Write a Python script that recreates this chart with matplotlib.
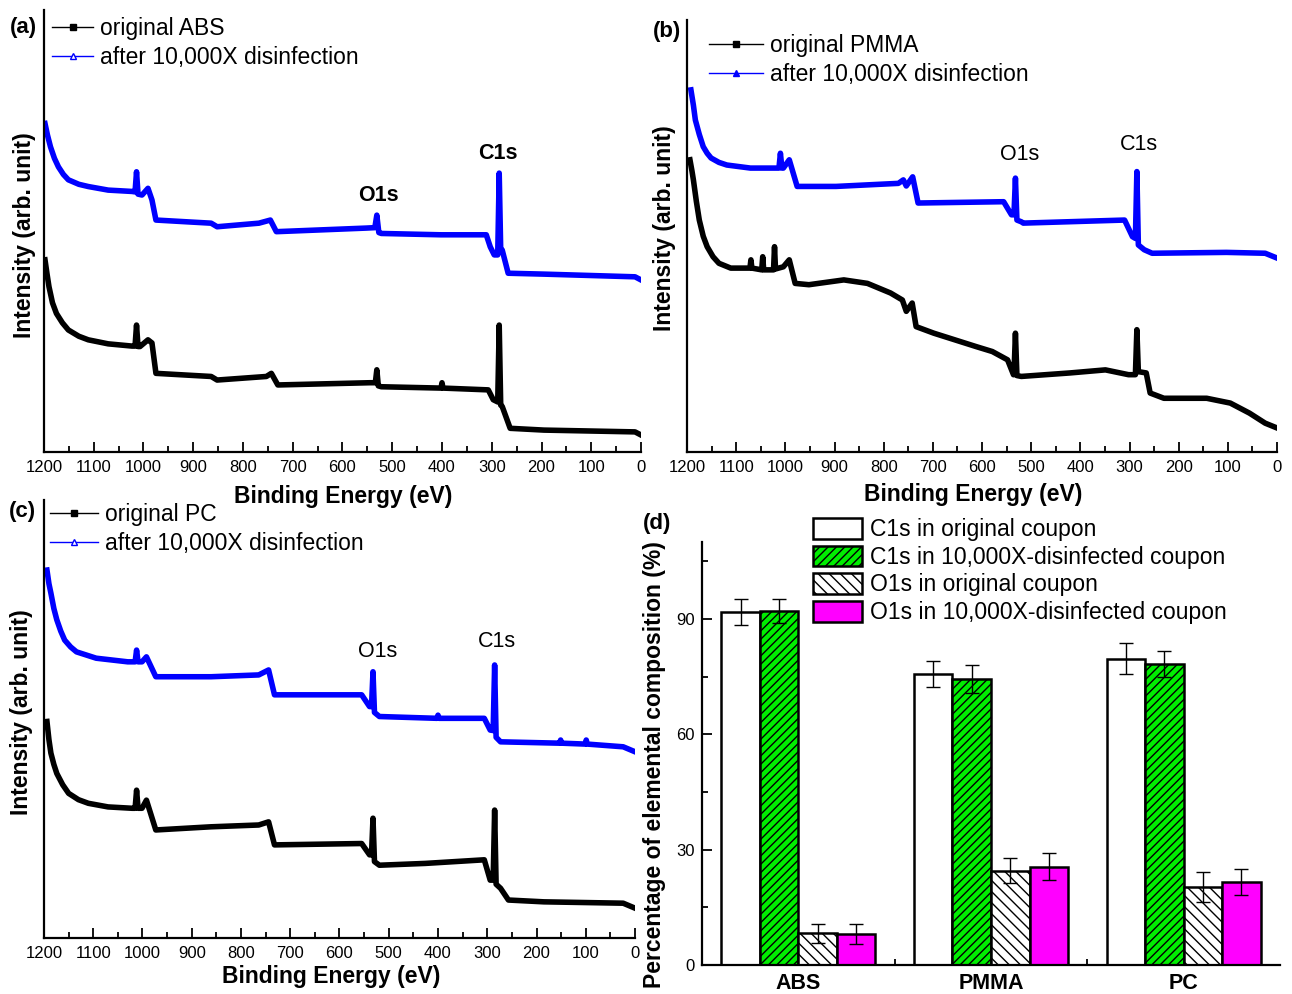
import numpy as np
import matplotlib
matplotlib.use("Agg")
import matplotlib.pyplot as plt
from matplotlib.lines import Line2D

plt.rcParams['font.family'] = ['Liberation Sans', 'DejaVu Sans']
plt.rcParams['hatch.linewidth'] = 1.0

# ---- XPS survey spectra (binding energy in eV, intensity in arb. units)
abs_orig_be = [1198, 1194, 1190, 1183, 1175, 1163, 1151, 1130, 1111, 1071, 1023, 1017, 1014, 1011, 1007, 991,
               983, 975, 912, 864, 852, 753, 743, 730, 545, 534, 531, 528, 522, 402, 400, 398, 307, 297, 288,
               285, 282, 279, 263, 195, 12, 0]
abs_orig_i = [44.1, 41.0, 38.1, 34.5, 32.1, 30.0, 28.4, 27.0, 26.2, 25.3, 24.8, 24.8, 29.5, 24.7, 24.7, 26.2,
              25.5, 18.7, 18.3, 18.0, 17.2, 18.0, 18.7, 16.1, 16.6, 16.6, 19.5, 15.9, 15.7, 15.4, 16.6, 15.4,
              15.0, 12.8, 12.3, 29.5, 11.6, 11.3, 6.4, 6.0, 5.6, 4.9]
abs_dis_be = [1198, 1193, 1187, 1179, 1171, 1161, 1151, 1130, 1111, 1071, 1023, 1017, 1014, 1011, 1003, 991,
              983, 975, 912, 864, 852, 768, 745, 733, 553, 535, 531, 527, 522, 402, 311, 303, 295, 288, 285,
              282, 279, 267, 195, 12, 0]
abs_dis_i = [74.6, 72.0, 69.4, 66.8, 64.9, 63.2, 62.0, 61.0, 60.5, 59.7, 59.4, 59.3, 63.8, 58.8, 58.6, 60.1,
             57.5, 53.0, 52.6, 52.3, 51.5, 52.3, 53.0, 50.4, 51.2, 51.3, 54.1, 50.2, 50.0, 49.7, 49.7, 47.0,
             45.2, 45.2, 63.5, 46.3, 46.3, 41.1, 40.9, 40.3, 39.6]

pmma_orig_be = [1194, 1190, 1187, 1181, 1175, 1167, 1159, 1147, 1135, 1111, 1072, 1070, 1068, 1048, 1046,
                1044, 1024, 1022, 1020, 1004, 992, 980, 952, 881, 833, 786, 762, 754, 742, 734, 698, 611,
                579, 548, 536, 535, 532, 529, 520, 421, 349, 302, 288, 285, 282, 266, 258, 230, 143, 95, 56,
                24, 0]
pmma_orig_i = [68.0, 65.5, 63.4, 58.5, 54.2, 50.5, 48.1, 45.8, 44.3, 43.2, 43.2, 45.1, 43.2, 42.8, 45.8,
               42.8, 42.8, 48.1, 43.0, 43.5, 45.1, 39.7, 39.4, 40.5, 39.7, 37.5, 35.9, 33.3, 35.2, 29.8,
               28.3, 25.2, 24.1, 22.2, 18.8, 18.8, 28.3, 18.6, 18.4, 19.2, 19.9, 18.8, 18.8, 29.1, 19.5, 19.2,
               14.6, 13.4, 13.4, 12.3, 10.0, 7.7, 6.6]
pmma_dis_be = [1192, 1187, 1183, 1175, 1167, 1159, 1151, 1135, 1119, 1071, 1024, 1013, 1010, 1007, 1004, 992,
               976, 897, 770, 760, 754, 741, 730, 556, 540, 535, 532, 529, 520, 516, 310, 294, 288, 285, 282,
               270, 254, 103, 24, 0]
pmma_dis_i = [84.0, 80.5, 77.1, 73.8, 71.0, 69.5, 68.4, 67.4, 66.8, 66.1, 66.1, 66.1, 69.5, 66.1, 66.1, 68.0,
              61.9, 61.9, 62.6, 63.4, 62.0, 64.1, 58.1, 58.4, 55.4, 55.4, 63.8, 54.2, 53.8, 53.5, 54.2, 50.4,
              50.0, 65.3, 48.5, 47.4, 46.6, 46.8, 46.6, 45.5]

pc_orig_be = [1194, 1190, 1186, 1180, 1174, 1162, 1150, 1130, 1110, 1070, 1021, 1015, 1012, 1009, 1001, 992,
              973, 861, 764, 744, 732, 555, 539, 535, 532, 529, 519, 426, 306, 294, 288, 285, 282, 273, 257,
              185, 24, 0]
pc_orig_i = [51.0, 47.0, 44.0, 41.5, 39.5, 37.0, 35.1, 33.7, 32.9, 32.1, 31.8, 31.8, 35.8, 31.8, 31.8, 33.6,
             27.0, 27.7, 28.1, 28.8, 23.7, 24.0, 21.5, 21.5, 29.6, 20.0, 19.2, 19.6, 20.4, 15.9, 15.9, 31.4,
             15.0, 14.1, 11.5, 11.1, 10.8, 9.7]
pc_dis_be = [1194, 1190, 1186, 1180, 1174, 1166, 1158, 1146, 1134, 1094, 1030, 1015, 1012, 1009, 1001, 992,
             973, 861, 764, 744, 732, 555, 539, 535, 532, 529, 519, 402, 400, 398, 306, 294, 288, 285, 282,
             273, 153, 151, 149, 101, 99, 97, 24, 0]
pc_dis_i = [84.5, 81.5, 79.4, 76.0, 73.5, 71.0, 69.0, 67.5, 66.4, 65.0, 64.2, 64.2, 66.8, 64.2, 64.2, 65.3,
            60.9, 60.9, 61.3, 62.4, 56.9, 56.9, 54.3, 54.3, 62.0, 53.0, 52.1, 51.7, 52.4, 51.7, 51.7, 49.1,
            49.0, 63.5, 47.5, 46.5, 46.2, 46.9, 46.2, 46.0, 46.9, 46.0, 45.4, 44.3]

# ---- elemental composition (%)
materials = ['ABS', 'PMMA', 'PC']
c1s_orig = [91.8, 75.6, 79.7]
c1s_orig_err = [3.3, 3.4, 4.0]
c1s_dis = [92.1, 74.4, 78.3]
c1s_dis_err = [3.1, 3.7, 3.3]
o1s_orig = [8.2, 24.5, 20.4]
o1s_orig_err = [2.5, 3.3, 3.9]
o1s_dis = [8.0, 25.6, 21.6]
o1s_dis_err = [2.6, 3.5, 3.3]

W, H = 1292, 994
fig = plt.figure(figsize=(W / 100, H / 100), dpi=100)


def px_axes(left, top, right, bottom):
    return fig.add_axes([left / W, 1 - bottom / H, (right - left) / W, (bottom - top) / H])


def ftext(x, y, s, **kw):
    fig.text(x / W, 1 - y / H, s, ha='center', va='center', **kw)


def spectrum(ax, be1, i1, be2, i2, lab1, lab2, tri_fill, ymin):
    ax.plot(be1, i1, color='black', lw=4.0, solid_joinstyle='round')
    ax.plot(be2, i2, color='blue', lw=4.0, solid_joinstyle='round')
    mfc = 'blue' if tri_fill else 'white'
    ax.set_xlim(1200, 0)
    ax.set_ylim(ymin, 100)
    ax.set_xticks(np.arange(0, 1201, 100))
    ax.set_xticks(np.arange(50, 1200, 100), minor=True)
    ax.set_yticks([])
    for s in ['top', 'right']:
        ax.spines[s].set_visible(False)
    for s in ['left', 'bottom']:
        ax.spines[s].set_linewidth(1.6)
    ax.tick_params(axis='x', which='major', direction='in', length=7, width=1.3, labelsize=12, pad=6)
    ax.tick_params(axis='x', which='minor', direction='in', length=4, width=1.3)
    handles = [Line2D([], [], color='black', lw=1, marker='s', ms=4),
               Line2D([], [], color='blue', lw=1, marker='^', ms=5, mfc=mfc, mec='blue')]
    return handles, [lab1, lab2]


leg_kw = dict(loc='upper left', frameon=False, fontsize=16.5, handletextpad=0.3, labelspacing=0.25,
              borderpad=0, borderaxespad=0, numpoints=1)

# (a)
ax_a = px_axes(44, 10, 641, 452)
h, l = spectrum(ax_a, abs_orig_be, abs_orig_i, abs_dis_be, abs_dis_i,
                'original ABS', 'after 10,000X disinfection', False, 1.1)
fig.legend(h, l, bbox_to_anchor=(52 / W, 1 - 17 / H), handlelength=1.8, **leg_kw)
ax_a.text(287, 68, 'C1s', ha='center', va='center', fontsize=15.5, fontweight='bold')
ax_a.text(528, 58.4, 'O1s', ha='center', va='center', fontsize=15.5, fontweight='bold')
ftext(343, 497, 'Binding Energy (eV)', fontsize=16.5, fontweight='bold')
ftext(25, 235, 'Intensity (arb. unit)', fontsize=16.5, fontweight='bold', rotation=90)
ftext(23, 28, '(a)', fontsize=16, fontweight='bold')

# (b)
ax_b = px_axes(687, 20, 1277, 452)
h, l = spectrum(ax_b, pmma_orig_be, pmma_orig_i, pmma_dis_be, pmma_dis_i,
                'original PMMA', 'after 10,000X disinfection', True, 1.1)
fig.legend(h, l, bbox_to_anchor=(709 / W, 1 - 34 / H), handlelength=2.35, **leg_kw)
ax_b.text(523, 69.3, 'O1s', ha='center', va='center', fontsize=15.5)
ax_b.text(281, 71.4, 'C1s', ha='center', va='center', fontsize=15.5)
ftext(973, 494, 'Binding Energy (eV)', fontsize=16.5, fontweight='bold')
ftext(664, 228, 'Intensity (arb. unit)', fontsize=16.5, fontweight='bold', rotation=90)
ftext(667, 31, '(b)', fontsize=16, fontweight='bold')

# (c)
ax_c = px_axes(44, 500, 635, 938)
h, l = spectrum(ax_c, pc_orig_be, pc_orig_i, pc_dis_be, pc_dis_i,
                'original PC', 'after 10,000X disinfection', False, 3.1)
fig.legend(h, l, bbox_to_anchor=(50 / W, 1 - 503 / H), handlelength=2.1, **leg_kw)
ax_c.text(522, 66.4, 'O1s', ha='center', va='center', fontsize=15.5)
ax_c.text(280, 68.8, 'C1s', ha='center', va='center', fontsize=15.5)
ftext(331, 977, 'Binding Energy (eV)', fontsize=16.5, fontweight='bold')
ftext(22, 712, 'Intensity (arb. unit)', fontsize=16.5, fontweight='bold', rotation=90)
ftext(22, 512, '(c)', fontsize=16, fontweight='bold')

# (d)
ax_d = px_axes(702, 542, 1280, 965)
x = np.arange(len(materials))
bw = 0.2
ekw = dict(ecolor='black', elinewidth=1, capsize=5, capthick=1)
ax_d.bar(x - 0.3, c1s_orig, bw, yerr=c1s_orig_err, color='white', edgecolor='black', lw=1.8,
         error_kw=ekw, label='C1s in original coupon')
ax_d.bar(x - 0.1, c1s_dis, bw, yerr=c1s_dis_err, color='#00ee00', edgecolor='black', lw=1.8,
         hatch='////', error_kw=ekw, label='C1s in 10,000X-disinfected coupon')
ax_d.bar(x + 0.1, o1s_orig, bw, yerr=o1s_orig_err, color='white', edgecolor='black', lw=1.8,
         hatch='\\\\\\', error_kw=ekw, label='O1s in original coupon')
ax_d.bar(x + 0.3, o1s_dis, bw, yerr=o1s_dis_err, color='#ff00ff', edgecolor='black', lw=1.8,
         error_kw=ekw, label='O1s in 10,000X-disinfected coupon')
ax_d.set_xlim(-0.5, 2.5)
ax_d.set_ylim(0, 110)
ax_d.set_yticks([0, 30, 60, 90])
ax_d.set_yticks([15, 45, 75, 105], minor=True)
ax_d.set_xticks(x)
ax_d.set_xticklabels(materials, fontsize=15.5, fontweight='bold')
ax_d.set_xticks([0.5, 1.5], minor=True)
ax_d.tick_params(axis='x', which='major', length=0, pad=6)
ax_d.tick_params(axis='x', which='minor', direction='in', length=4, width=1.3)
ax_d.tick_params(axis='y', which='major', direction='in', length=7, width=1.3, labelsize=12, pad=5)
ax_d.tick_params(axis='y', which='minor', direction='in', length=4, width=1.3)
for s in ['top', 'right']:
    ax_d.spines[s].set_visible(False)
for s in ['left', 'bottom']:
    ax_d.spines[s].set_linewidth(1.6)
fig.legend(*ax_d.get_legend_handles_labels(), loc='upper left', bbox_to_anchor=(813 / W, 1 - 518 / H),
           frameon=False, fontsize=16.5, handlelength=2.15, handleheight=1.0, handletextpad=0.35,
           labelspacing=0.2, borderpad=0, borderaxespad=0)
ftext(655, 765, 'Percentage of elemental composition (%)', fontsize=16.5, fontweight='bold', rotation=90)
ftext(657, 524, '(d)', fontsize=16, fontweight='bold')

fig.savefig('out.png', dpi=100)
